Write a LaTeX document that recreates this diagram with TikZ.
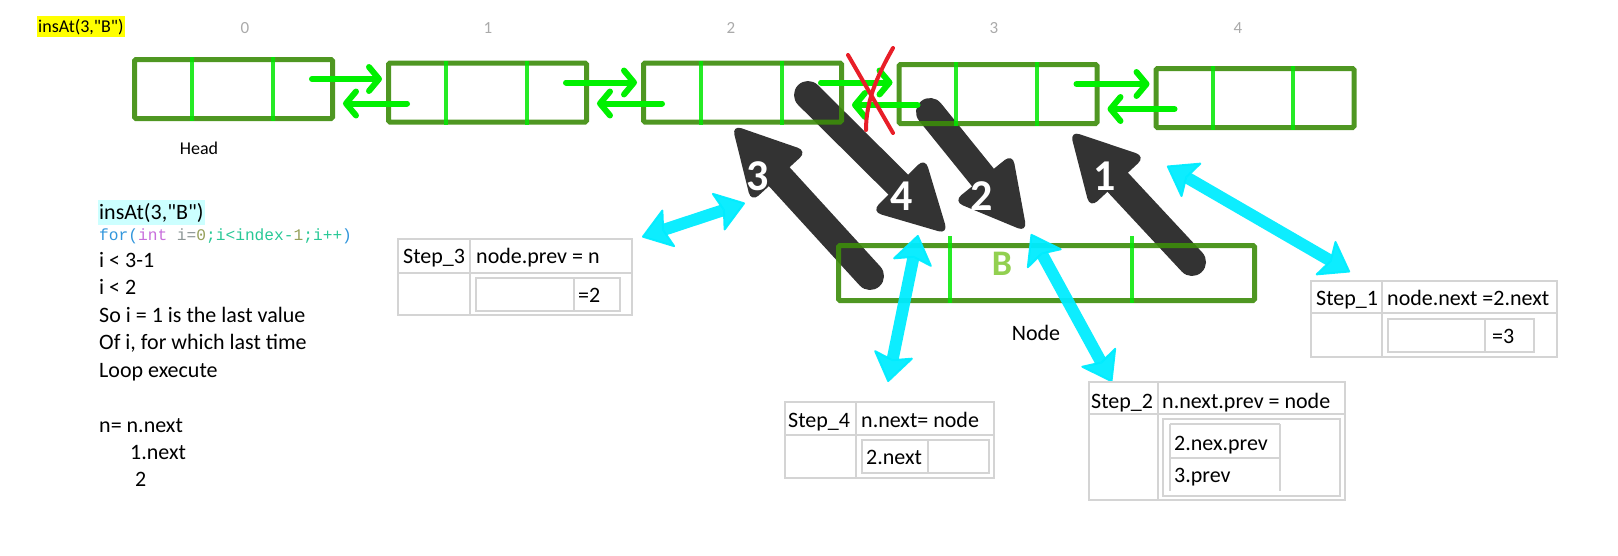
\documentclass[tikz,border=0pt]{standalone}
\usepackage{fontspec}
\setmainfont{Carlito}
\setmonofont{Liberation Mono}
\usetikzlibrary{arrows.meta,calc}

\definecolor{boxgreen}{RGB}{60,140,10}
\definecolor{divgreen}{RGB}{0,232,0}
\definecolor{ptrgreen}{RGB}{0,240,0}
\definecolor{linkcyan}{RGB}{0,236,255}
\definecolor{darkarrow}{RGB}{51,51,51}
\definecolor{tablegray}{RGB}{212,212,212}
\definecolor{idxgray}{RGB}{170,170,170}
\definecolor{valgreen}{RGB}{146,208,80}
\definecolor{crossred}{RGB}{232,30,40}
\definecolor{hlyellow}{RGB}{255,255,0}
\definecolor{hlcyan}{RGB}{204,255,255}
\definecolor{kwblue}{RGB}{50,150,220}
\definecolor{kwviolet}{RGB}{200,110,220}
\definecolor{codegray}{RGB}{140,150,150}
\definecolor{numolive}{RGB}{150,160,90}
\definecolor{codeteal}{RGB}{40,200,150}

\tikzset{
  listbox/.style={draw=boxgreen, draw opacity=0.9, line width=5pt, rounded corners=1.5pt,
    minimum width=198pt, minimum height=59pt, inner sep=0pt},
  divider/.style={divgreen, line width=4pt, opacity=0.85},
  ptr/.style={ptrgreen, line width=6pt, line cap=round, ->, >={Straight Barb[length=10pt,width=24pt,round]}},
  stepshaft/.style={darkarrow, line width=28pt, line cap=round},
  stephead/.style={darkarrow, rounded corners=10pt},
  linkarr/.style={linkcyan, opacity=0.95, line width=12pt, <->, >={Stealth[length=30pt,width=42pt,inset=6pt,line width=2pt,round]}},
  tline/.style={tablegray, line width=1.2pt},
  ttext/.style={anchor=base west, inner sep=0pt, font=\fontsize{22}{26}\selectfont},
  stepnum/.style={anchor=base, inner sep=0pt, text=white, font=\fontsize{44}{50}\selectfont\bfseries},
  idx/.style={anchor=base, inner sep=0pt, text=idxgray, font=\fontsize{17}{20}\selectfont},
  crossline/.style={crossred, line width=4pt, line cap=round}
}

\begin{document}
\begin{tikzpicture}[x=1pt,y=-1pt]
\useasboundingbox (0,0) rectangle (1618,555);

% title and index labels
\node[fill=hlyellow, inner xsep=1pt, inner ysep=2.5pt, anchor=base west, font=\fontsize{18}{21}\selectfont] (title) at (37,32) {insAt(3,\textquotedbl B\textquotedbl)};
\node[idx] (idx0) at (245,33) {0};
\node[idx] (idx1) at (488,33) {1};
\node[idx] (idx2) at (731,33) {2};
\node[idx] (idx3) at (994,33) {3};
\node[idx] (idx4) at (1238,33) {4};

% step arrows, under the boxes
\coordinate (tail3) at (870,276);
\coordinate (tip3) at (732,125);
\coordinate (tail4) at (808,95);
\coordinate (tip4) at (948,234);
\coordinate (tail2) at (930,112);
\coordinate (tip2) at (1027,232);
\coordinate (tail1) at (1192,262);
\coordinate (tip1) at (1070,131);
\coordinate (hb3) at ($(tip3)!70pt!(tail3)$);
\coordinate (hb4) at ($(tip4)!70pt!(tail4)$);
\coordinate (hb2) at ($(tip2)!70pt!(tail2)$);
\coordinate (hb1) at ($(tip1)!70pt!(tail1)$);
\draw[stepshaft] (tail3) -- (hb3);
\draw[stepshaft] (tail4) -- (hb4);
\draw[stepshaft] (tail2) -- (hb2);
\draw[stepshaft] (tail1) -- (hb1);
\fill[stephead] (tip3) -- ($(hb3)!38pt!90:(tip3)$) -- ($(hb3)!38pt!-90:(tip3)$) -- cycle;
\fill[stephead] (tip4) -- ($(hb4)!38pt!90:(tip4)$) -- ($(hb4)!38pt!-90:(tip4)$) -- cycle;
\fill[stephead] (tip2) -- ($(hb2)!38pt!90:(tip2)$) -- ($(hb2)!38pt!-90:(tip2)$) -- cycle;
\fill[stephead] (tip1) -- ($(hb1)!38pt!90:(tip1)$) -- ($(hb1)!38pt!-90:(tip1)$) -- cycle;

% list boxes
\node[listbox] (b0) at (233.5,89) {};
\node[listbox] (b1) at (487.5,92.5) {};
\node[listbox] (b2) at (742.5,92.5) {};
\node[listbox] (b3) at (998,94) {};
\node[listbox] (b4) at (1255,98) {};
\node[listbox, minimum width=416pt, minimum height=55pt] (nb) at (1046.5,273) {};

\draw[divider] ([xshift=60pt]b0.north west) -- ([xshift=60pt]b0.south west);
\draw[divider] ([xshift=141pt]b0.north west) -- ([xshift=141pt]b0.south west);
\draw[divider] ([xshift=60pt]b1.north west) -- ([xshift=60pt]b1.south west);
\draw[divider] ([xshift=141pt]b1.north west) -- ([xshift=141pt]b1.south west);
\draw[divider] ([xshift=60pt]b2.north west) -- ([xshift=60pt]b2.south west);
\draw[divider] ([xshift=141pt]b2.north west) -- ([xshift=141pt]b2.south west);
\draw[divider] ([xshift=59pt]b3.north west) -- ([xshift=59pt]b3.south west);
\draw[divider] ([xshift=140pt]b3.north west) -- ([xshift=140pt]b3.south west);
\draw[divider] ([xshift=59pt]b4.north west) -- ([xshift=59pt]b4.south west);
\draw[divider] ([xshift=139pt]b4.north west) -- ([xshift=139pt]b4.south west);
\draw[divider] ([xshift=114pt,yshift=7pt]nb.north west) -- ([xshift=114pt]nb.south west);
\draw[divider] ([xshift=296pt,yshift=7pt]nb.north west) -- ([xshift=296pt]nb.south west);

% next / prev pointers
\draw[ptr] ([xshift=-23pt,yshift=10pt]b0.east) -- ([xshift=-4pt,yshift=13.5pt]b1.west);
\draw[ptr] ([xshift=21pt,yshift=-11pt]b1.west) -- ([xshift=8pt,yshift=-14.5pt]b0.east);
\draw[ptr] ([xshift=-23pt,yshift=10pt]b1.east) -- ([xshift=-4pt,yshift=10pt]b2.west);
\draw[ptr] ([xshift=21pt,yshift=-11pt]b2.west) -- ([xshift=8pt,yshift=-11pt]b1.east);
\draw[ptr] ([xshift=-23pt,yshift=10pt]b2.east) -- ([xshift=-4pt,yshift=11.5pt]b3.west);
\draw[ptr] ([xshift=21pt,yshift=-11pt]b3.west) -- ([xshift=8pt,yshift=-12.5pt]b2.east);
\draw[ptr] ([xshift=-23pt,yshift=10pt]b3.east) -- ([xshift=-4pt,yshift=14pt]b4.west);
\draw[ptr] ([xshift=21pt,yshift=-11pt]b4.west) -- ([xshift=8pt,yshift=-15pt]b3.east);

% links to the step tables
\coordinate (lk3a) at (642,237);
\coordinate (lk3b) at (745,203);
\coordinate (lk4a) at (888,382);
\coordinate (lk4b) at (918,235);
\coordinate (lk2a) at (1112,382);
\coordinate (lk2b) at (1031,234);
\coordinate (lk1a) at (1350,272);
\coordinate (lk1b) at (1167,166);
\draw[linkarr] (lk3a) -- (lk3b);
\draw[linkarr] (lk4a) -- (lk4b);
\draw[linkarr] (lk2a) -- (lk2b);
\draw[linkarr] (lk1a) -- (lk1b);

% labels
\node[anchor=base, inner sep=0pt, font=\fontsize{18}{21}\selectfont] (head) at (199,154) {Head};
\node[anchor=base, inner sep=0pt, font=\fontsize{22}{26}\selectfont] (nodelbl) at (1036,340) {Node};
\node[anchor=base, inner sep=0pt, text=valgreen, font=\fontsize{36}{40}\selectfont\bfseries] (bval) at (1002,275) {B};
\node[stepnum] (num3) at (758,190) {3};
\node[stepnum] (num4) at (902,210) {4};
\node[stepnum] (num2) at (982,210) {2};
\node[stepnum] (num1) at (1105,190) {1};

% Step_3 table
\draw[tline] (398,239) rectangle (632,315);
\draw[tline] (398,273) -- (632,273);
\draw[tline] (470,239) -- (470,315);
\draw[tline] (476,278) rectangle (620,311);
\draw[tline] (574,278) -- (574,311);
\node[ttext] (st3) at (403,263) {Step\_3};
\node[ttext] (st3op) at (476,263) {node.prev = n};
\node[ttext] (st3val) at (578,302) {=2};

% Step_1 table
\draw[tline] (1311,281) rectangle (1557,357);
\draw[tline] (1311,313) -- (1557,313);
\draw[tline] (1382,281) -- (1382,357);
\draw[tline] (1388,319) rectangle (1534,352);
\draw[tline] (1485,319) -- (1485,352);
\node[ttext] (st1) at (1316,305) {Step\_1};
\node[ttext] (st1op) at (1387,305) {node.next =2.next};
\node[ttext] (st1val) at (1492,343) {=3};

% Step_4 table
\draw[tline] (785,402) rectangle (994,478);
\draw[tline] (785,435) -- (994,435);
\draw[tline] (856,402) -- (856,478);
\draw[tline] (862,440) rectangle (989,473);
\draw[tline] (928,440) -- (928,473);
\node[ttext] (st4) at (788,427) {Step\_4};
\node[ttext] (st4op) at (861,427) {n.next= node};
\node[ttext] (st4val) at (866,464) {2.next};

% Step_2 table
\draw[tline] (1089,382) rectangle (1345,500);
\draw[tline] (1089,414) -- (1345,414);
\draw[tline] (1158,382) -- (1158,500);
\draw[tline] (1163,419) rectangle (1340,496);
\draw[tline] (1170,424) -- (1280,424);
\draw[tline] (1170,424) -- (1170,491);
\draw[tline] (1170,458) -- (1280,458);
\draw[tline] (1280,424) -- (1280,491);
\node[ttext] (st2) at (1091,408) {Step\_2};
\node[ttext] (st2op) at (1162,408) {n.next.prev = node};
\node[ttext] (st2va) at (1174,450) {2.nex.prev};
\node[ttext] (st2vb) at (1174,482) {3.prev};

% loop notes
\node[ttext, fill=hlcyan, inner xsep=1pt, inner ysep=3pt] (call) at (98,219) {insAt(3,\textquotedbl B\textquotedbl)};
\node[anchor=base west, inner sep=0pt, font=\fontsize{16.2}{19}\selectfont\ttfamily] (loop) at (99,240)
  {{\color{kwblue}for(}{\color{kwviolet}int} {\color{codegray}i=}{\color{numolive}0}{\color{codeteal};i<index-}{\color{numolive}1}{\color{codeteal};i++}{\color{kwblue})}};
\node[ttext] (ln1) at (99,267) {i < 3-1};
\node[ttext] (ln2) at (99,294) {i < 2};
\node[ttext] (ln3) at (99,322) {So i = 1 is the last value};
\node[ttext] (ln4) at (99,349) {Of i, for which last time};
\node[ttext] (ln5) at (99,377) {Loop execute};
\node[ttext] (ln6) at (99,432) {n= n.next};
\node[ttext] (ln7) at (130,459) {1.next};
\node[ttext] (ln8) at (135,486) {2};

% broken link
\draw[crossline] (848,55) -- (893,133);
\draw[crossline] (893,48) .. controls (876,78) and (866,102) .. (866,130);
\end{tikzpicture}
\end{document}
